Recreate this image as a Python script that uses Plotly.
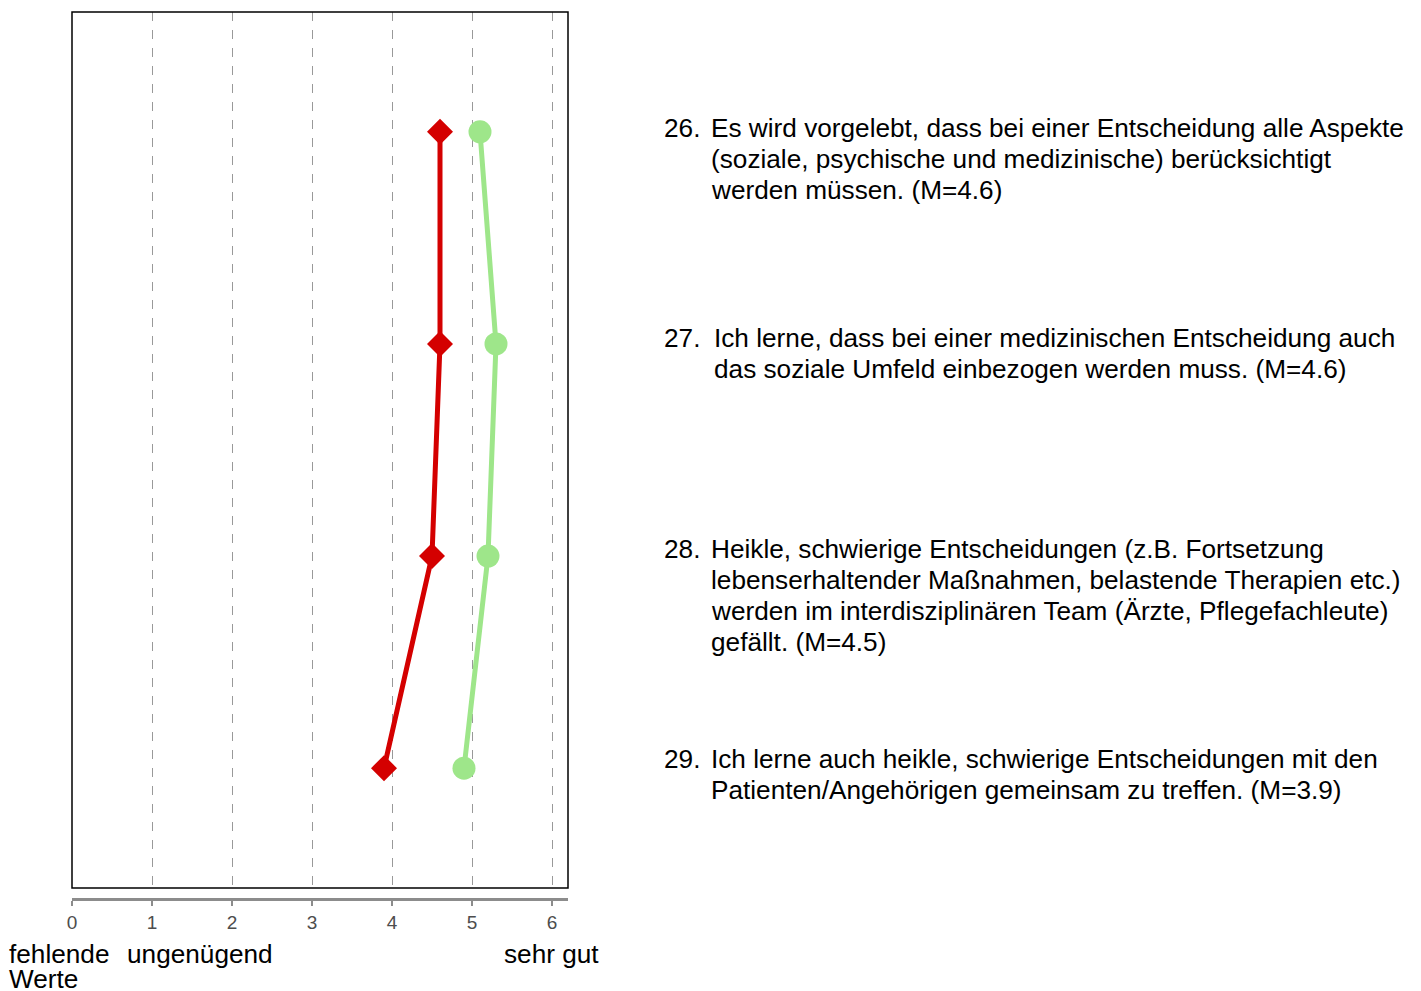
import plotly.graph_objects as go

# ---- data ----
items = [1, 2, 3, 4]
red_values = [4.6, 4.6, 4.5, 3.9]
green_values = [5.1, 5.3, 5.2, 4.9]
tick_values = [0, 1, 2, 3, 4, 5, 6]
tick_labels = ["0", "1", "2", "3", "4", "5", "6"]
item_numbers = ["26.", "27.", "28.", "29."]
item_lines = [
    ["Es wird vorgelebt, dass bei einer Entscheidung alle Aspekte",
     "(soziale, psychische und medizinische) berücksichtigt",
     "werden müssen. (M=4.6)"],
    ["Ich lerne, dass bei einer medizinischen Entscheidung auch",
     "das soziale Umfeld einbezogen werden muss. (M=4.6)"],
    ["Heikle, schwierige Entscheidungen (z.B. Fortsetzung",
     "lebenserhaltender Maßnahmen, belastende Therapien etc.)",
     "werden im interdisziplinären Team (Ärzte, Pflegefachleute)",
     "gefällt. (M=4.5)"],
    ["Ich lerne auch heikle, schwierige Entscheidungen mit den",
     "Patienten/Angehörigen gemeinsam zu treffen. (M=3.9)"],
]
# label, x (paper), y (paper), anchor
scale_labels = [("fehlende", -0.131, -0.02503, "left"),
                ("Werte", -0.131, -0.0522, "left"),
                ("ungenügend", 0.107, -0.02503, "left"),
                ("sehr gut", 0.9677, -0.02503, "center")]

FONT = "Liberation Sans, Arial, Helvetica, sans-serif"
RED = "#D40000"
GREEN = "#9EE68A"
TXT_SIZE = 26.2

fig = go.Figure()
fig.add_trace(go.Scatter(
    x=red_values, y=items, mode="lines+markers",
    line=dict(color=RED, width=5),
    marker=dict(symbol="diamond", size=20, color=RED),
    showlegend=False, cliponaxis=False))
fig.add_trace(go.Scatter(
    x=green_values, y=items, mode="lines+markers",
    line=dict(color=GREEN, width=5),
    marker=dict(symbol="circle", size=23, color=GREEN),
    showlegend=False, cliponaxis=False))

annotations = []
num_x = 1.1896
text_x = [1.2843, 1.2903, 1.2843, 1.2843]
base_shift = [4, 6, 7, 9]
for i, (num, lines) in enumerate(zip(item_numbers, item_lines)):
    annotations.append(dict(
        x=num_x, y=items[i], xref="paper", yref="y", text=num,
        showarrow=False, xanchor="left", yanchor="middle", yshift=base_shift[i],
        font=dict(family=FONT, size=TXT_SIZE, color="black")))
    for k, ln in enumerate(lines):
        annotations.append(dict(
            x=text_x[i], y=items[i], xref="paper", yref="y", text=ln,
            showarrow=False, xanchor="left", yanchor="middle",
            yshift=base_shift[i] - 31 * k,
            font=dict(family=FONT, size=TXT_SIZE, color="black")))

for txt, xx, yy, anchor in scale_labels:
    annotations.append(dict(
        x=xx, y=yy, xref="paper", yref="paper", text=txt, showarrow=False,
        xanchor=anchor, yanchor="middle",
        font=dict(family=FONT, size=TXT_SIZE, color="black")))

fig.update_layout(
    width=1413, height=983,
    margin=dict(l=64, r=853, t=4, b=60),
    paper_bgcolor="white", plot_bgcolor="white",
    font=dict(family=FONT),
    annotations=annotations,
    xaxis=dict(
        range=[0, 6.2], tickvals=tick_values, ticktext=tick_labels,
        anchor="free", position=0.03482,
        showline=True, linecolor="#8c8c8c", linewidth=3,
        ticks="outside", ticklen=5, tickwidth=2, tickcolor="#8c8c8c",
        tickfont=dict(family=FONT, size=19, color="#4d4d4d"),
        showgrid=True, gridcolor="#999999", gridwidth=1.3, griddash="dash",
        zeroline=False, fixedrange=True),
    yaxis=dict(
        range=[4.565, 0.435], domain=[0.04679, 1],
        showticklabels=False, showgrid=False, zeroline=False,
        showline=False, ticks="", fixedrange=True),
    shapes=[dict(type="rect", xref="x domain", yref="y domain",
                 x0=0, x1=1, y0=0, y1=1,
                 line=dict(color="black", width=1.5), layer="above")],
)

fig.write_html("out.html")
